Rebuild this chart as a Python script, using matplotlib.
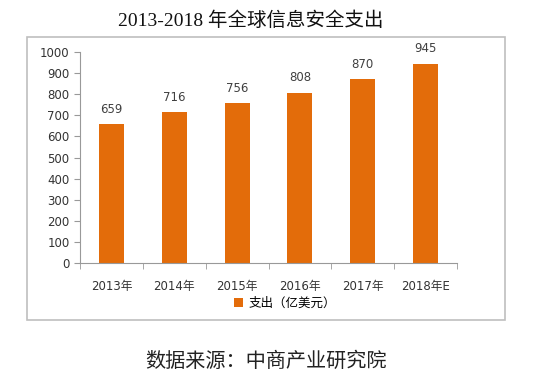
import matplotlib
matplotlib.use("Agg")
import matplotlib.pyplot as plt
import numpy as np
from matplotlib.patches import Rectangle

plt.rcParams['font.family'] = ['DejaVu Sans', 'Noto Sans CJK SC']

years = ["2013年", "2014年", "2015年", "2016年", "2017年", "2018年E"]
spend = [659, 716, 756, 808, 870, 945]
bar_color = "#E36C0A"

W, H = 550, 390
fig = plt.figure(figsize=(5.5, 3.9), dpi=100)

# outer frame
fig.patches.append(Rectangle((27 / W, 1 - 320 / H), (505 - 27) / W, (320 - 37) / H,
                             transform=fig.transFigure, fill=False,
                             edgecolor="#bfbfbf", linewidth=1.2))

ax = fig.add_axes([80 / W, 1 - 263 / H, (457 - 80) / W, (263 - 52) / H])
x = np.arange(len(years))
bars = ax.bar(x, spend, width=0.4, color=bar_color, label="支出（亿美元）")
ax.bar_label(bars, padding=6, fontsize=8.5, color="#404040")

ax.set_xlim(-0.5, len(years) - 0.5)
ax.set_ylim(0, 1000)
ax.set_yticks(range(0, 1001, 100))
ax.set_xticks(x)
ax.set_xticklabels(years, fontsize=8.5, color="#333333")
ax.set_xticks(np.arange(-0.5, len(years)), minor=True)
ax.tick_params(axis="x", which="major", length=0, pad=12)
ax.tick_params(axis="x", which="minor", length=4, color="#999999")
ax.tick_params(axis="y", labelsize=8.5, labelcolor="#333333", color="#999999", length=4)
for s in ["top", "right"]:
    ax.spines[s].set_visible(False)
for s in ["left", "bottom"]:
    ax.spines[s].set_color("#999999")

ax.legend(loc="center", bbox_to_anchor=(285 / W, 1 - 303 / H),
          bbox_transform=fig.transFigure, frameon=False, fontsize=9,
          handlelength=0.7, handleheight=0.7, handletextpad=0.4)

fig.text(251 / W, 1 - 21 / H, "2013-2018 年全球信息安全支出", ha="center", va="center",
         fontsize=14, family=["Liberation Serif", "Noto Sans CJK SC"], color="#111111")
fig.text(266 / W, 1 - 361 / H, "数据来源：中商产业研究院", ha="center", va="center",
         fontsize=14.5, family=["Noto Sans CJK SC"], color="#222222")

fig.savefig("out.png", dpi=100)
